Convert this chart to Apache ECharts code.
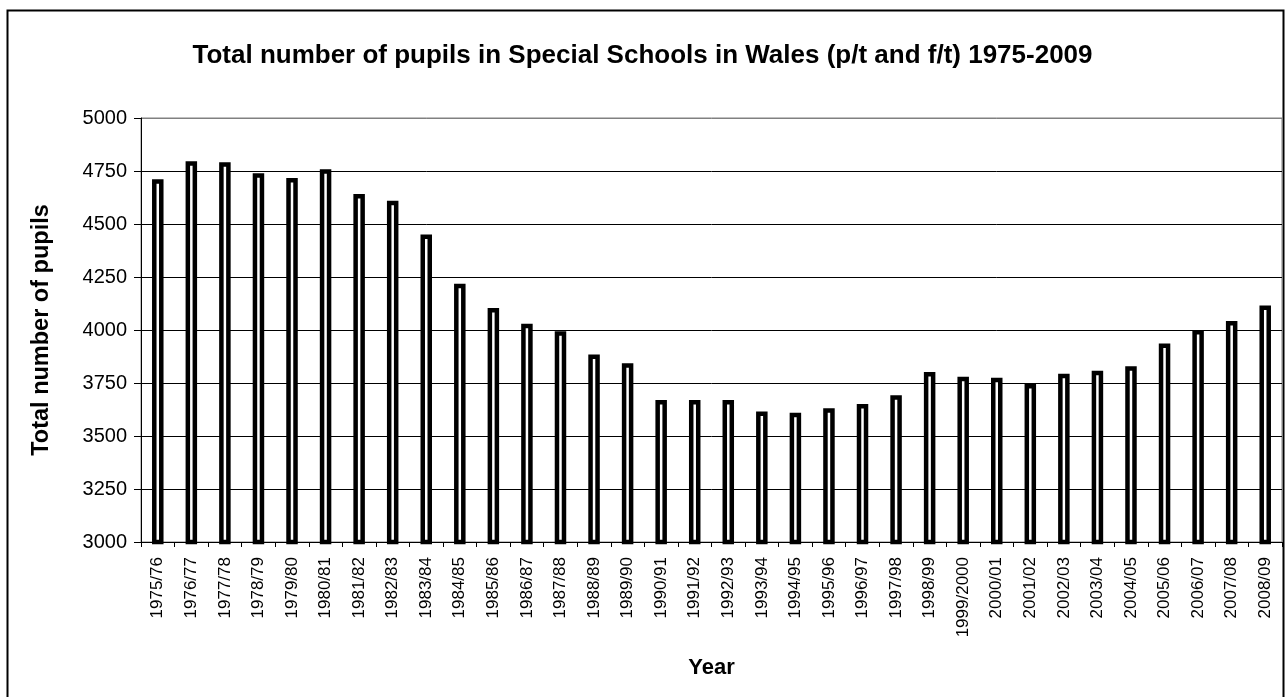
<!DOCTYPE html>
<html>
<head>
<meta charset="utf-8">
<script src="https://cdn.jsdelivr.net/npm/echarts@6/dist/echarts.min.js"></script>
<style>
html,body{margin:0;padding:0;background:#fff;}
#chart{width:1285px;height:697px;}
</style>
</head>
<body>
<div id="chart"></div>
<script>
const categories = ["1975/76","1976/77","1977/78","1978/79","1979/80","1980/81","1981/82","1982/83","1983/84","1984/85","1985/86","1986/87","1987/88","1988/89","1989/90","1990/91","1991/92","1992/93","1993/94","1994/95","1995/96","1996/97","1997/98","1998/99","1999/2000","2000/01","2001/02","2002/03","2003/04","2004/05","2005/06","2006/07","2007/08","2008/09"];
const pupils = [4711,4796,4791,4739,4717,4758,4642,4610,4450,4218,4104,4030,3994,3885,3843,3670,3670,3670,3616,3610,3631,3651,3692,3802,3780,3775,3745,3794,3808,3829,3936,4000,4042,4115];
const yTicks = {min:3000, max:5000, interval:250};
const titleText = "Total number of pupils in Special Schools in Wales (p/t and f/t) 1975-2009";
const yName = "Total number of pupils";
const xName = "Year";

const FONT = "'Liberation Sans', Arial, sans-serif";
const chart = echarts.init(document.getElementById('chart'), null, {renderer:'canvas'});
chart.setOption({
  backgroundColor:'#fff',
  animation:false,
  title:{
    text:titleText,
    left:'center',
    top:38,
    textStyle:{fontFamily:FONT,fontSize:26,fontWeight:'bold',color:'#000'}
  },
  graphic:[{
    type:'rect',
    shape:{x:7.5,y:10.5,width:1276,height:700},
    style:{fill:null,stroke:'#000',lineWidth:2},
    silent:true,z:-1
  }],
  grid:{left:141,right:3,top:118,bottom:155,show:true,borderColor:'#808080',borderWidth:1,backgroundColor:'transparent'},
  xAxis:{
    type:'category',
    data:categories,
    name:xName,
    nameLocation:'middle',
    nameGap:115,
    nameTextStyle:{fontFamily:FONT,fontSize:22,fontWeight:'bold',color:'#000'},
    axisLine:{lineStyle:{color:'#000',width:1}},
    axisTick:{show:true,length:5,lineStyle:{color:'#000'}},
    axisLabel:{rotate:90,interval:0,margin:15,fontFamily:FONT,fontSize:17,color:'#000'},
    splitLine:{show:false}
  },
  yAxis:{
    type:'value',
    min:yTicks.min,max:yTicks.max,interval:yTicks.interval,
    name:yName,
    nameLocation:'middle',
    nameGap:87,
    nameRotate:90,
    nameTextStyle:{fontFamily:FONT,fontSize:23.5,fontWeight:'bold',color:'#000'},
    axisLine:{show:true,lineStyle:{color:'#000',width:1}},
    axisTick:{show:true,length:7,lineStyle:{color:'#000'}},
    axisLabel:{margin:14,fontFamily:FONT,fontSize:20,color:'#000',formatter:function(v){return String(v);}},
    splitLine:{show:true,lineStyle:{color:['#000','#000','#000','#000','#000','#000','#000','#000','#808080'],width:1}}
  },
  series:[{
    type:'bar',
    data:pupils,
    barWidth:11.5,
    itemStyle:{color:'#fff',borderColor:'#000',borderWidth:4.5}
  }]
});
</script>
</body>
</html>
